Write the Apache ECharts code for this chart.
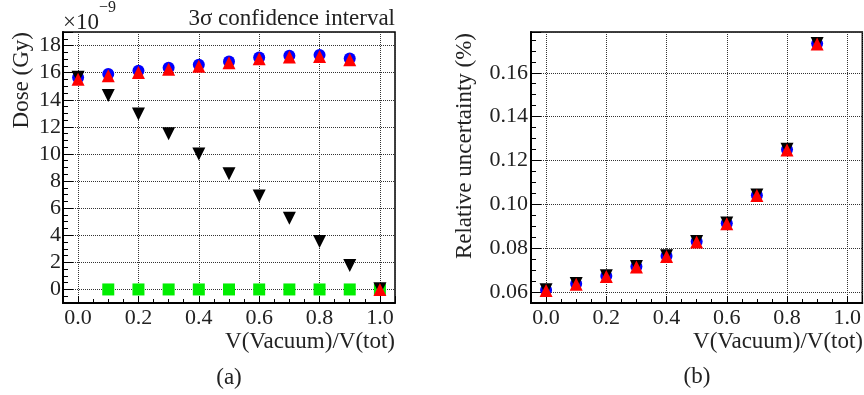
<!DOCTYPE html>
<html>
<head>
<meta charset="utf-8">
<script src="https://cdn.jsdelivr.net/npm/echarts@6/dist/echarts.min.js"></script>
<style>
html,body{margin:0;padding:0;background:#fff;}
#c{width:864px;height:395px;}
</style>
</head>
<body>
<div id="c"></div>
<script>
// ---- Data (panel a: Dose, x1e-9 Gy) ----
var xA = [0.0, 0.1, 0.2, 0.3, 0.4, 0.5, 0.6, 0.7, 0.8, 0.9, 1.0];
var doseBlue  = [15.64, 15.90, 16.14, 16.36, 16.58, 16.83, 17.12, 17.24, 17.30, 17.05, null];
var doseBlack = [15.66, 14.31, 12.94, 11.50, 10.00, 8.53, 6.90, 5.26, 3.53, 1.76, 0.05];
var doseGreen = [null, 0, 0, 0, 0, 0, 0, 0, 0, 0, 0];
var doseRed   = [15.52, 15.77, 16.02, 16.25, 16.47, 16.73, 17.02, 17.15, 17.20, 16.95, 0];

// ---- Data (panel b: relative uncertainty, %) ----
var xB = [0.0, 0.1, 0.2, 0.3, 0.4, 0.5, 0.6, 0.7, 0.8, 0.9];
var relBlue  = [0.0609, 0.0638, 0.0673, 0.0716, 0.0764, 0.0830, 0.0914, 0.1042, 0.1250, 0.1733];
var relBlack = [0.0610, 0.0639, 0.0674, 0.0717, 0.0765, 0.0831, 0.0915, 0.1043, 0.1251, 0.1734];
var relRed   = [0.0607, 0.0636, 0.0671, 0.0714, 0.0762, 0.0828, 0.0912, 0.1040, 0.1248, 0.1731];

function pairs(xs, ys){ var o=[]; for(var i=0;i<xs.length;i++){ if(ys[i]!==null) o.push([xs[i], ys[i]]); } return o; }

var FONT = 'Liberation Serif';
var TXT = '#222';
var TICKFS = 22;
var TITLEFS = 23;

function xAxisCfg(gi){
  return {
    type:'value', gridIndex:gi, min:-0.05, max:1.05, splitNumber:5,
    axisLine:{show:true, onZero:false, lineStyle:{color:'#000', width:2}},
    axisTick:{show:true, inside:true, length:7, lineStyle:{color:'#000', width:1}},
    minorTick:{show:true, splitNumber:4, length:4, lineStyle:{color:'#000', width:1}},
    splitLine:{show:true, lineStyle:{color:'#333', type:'dotted', width:1}},
    axisLabel:{show:true, showMinLabel:false, showMaxLabel:false, color:TXT, fontFamily:FONT, fontSize:TICKFS, margin:4,
      formatter:function(v){return v.toFixed(1);}}
  };
}

var symCircle = 'circle';
var symDown = 'path://M0,0 L10,0 L5,9 Z';
var symUp = 'path://M5,0 L10,9 L0,9 Z';

function sc(name, data, xi, yi, sym, color, size){
  return {type:'scatter', name:name, xAxisIndex:xi, yAxisIndex:yi, data:data, symbol:sym, symbolSize:size,
    itemStyle:{color:color, opacity:1}, emphasis:{disabled:true}, silent:true};
}

function txt(x, y, s, align, vAlign, rot){
  var o = {type:'text', x:x, y:y, style:{text:s, fill:TXT, fontFamily:FONT, fontSize:TITLEFS, align:align, verticalAlign:vAlign}};
  if (rot) o.rotation = rot;
  return o;
}

var chart = echarts.init(document.getElementById('c'), null, {renderer:'canvas'});
chart.setOption({
  animation:false,
  backgroundColor:'#fff',
  grid:[
    {left:63, top:32, width:332, height:271, show:true, borderColor:'#000', borderWidth:1.5, containLabel:false},
    {left:531, top:32, width:332, height:271, show:true, borderColor:'#000', borderWidth:1.5, containLabel:false}
  ],
  xAxis:[xAxisCfg(0), xAxisCfg(1)],
  yAxis:[
    {type:'value', gridIndex:0, min:-1, max:19, splitNumber:10,
     axisLine:{show:true, onZero:false, lineStyle:{color:'#000', width:2}},
     axisTick:{show:true, inside:true, length:10, lineStyle:{color:'#000', width:1}},
     minorTick:{show:true, splitNumber:4, length:5, lineStyle:{color:'#000', width:1}},
     splitLine:{show:true, lineStyle:{color:'#333', type:'dotted', width:1}},
     axisLabel:{show:true, showMinLabel:false, showMaxLabel:false, color:TXT, fontFamily:FONT, fontSize:TICKFS, margin:2}
    },
    {type:'value', gridIndex:1, min:0.055, max:0.1786, splitNumber:6,
     axisLine:{show:true, onZero:false, lineStyle:{color:'#000', width:2}},
     axisTick:{show:true, inside:true, length:10, lineStyle:{color:'#000', width:1}},
     minorTick:{show:true, splitNumber:4, length:5, lineStyle:{color:'#000', width:1}},
     splitLine:{show:true, lineStyle:{color:'#333', type:'dotted', width:1}},
     axisLabel:{show:true, showMinLabel:false, showMaxLabel:false, color:TXT, fontFamily:FONT, fontSize:TICKFS, margin:3,
       formatter:function(v){return v.toFixed(2);}}
    }
  ],
  series:[
    sc('Blue', pairs(xA, doseBlue), 0, 0, symCircle, '#0000ff', 12),
    sc('Green', pairs(xA, doseGreen), 0, 0, 'rect', '#00ee00', 12),
    sc('Black', pairs(xA, doseBlack), 0, 0, symDown, '#000000', 13),
    sc('Red', pairs(xA, doseRed), 0, 0, symUp, '#ff0000', 13),
    sc('Blue', pairs(xB, relBlue), 1, 1, symCircle, '#0000ff', 12),
    sc('Black', pairs(xB, relBlack), 1, 1, symDown, '#000000', 13),
    sc('Red', pairs(xB, relRed), 1, 1, symUp, '#ff0000', 13)
  ],
  graphic:[
    {type:'text', x:63, y:0, style:{
      text:'{a|×10}{s|−9}', fill:TXT, fontFamily:FONT, fontSize:22, verticalAlign:'top', align:'left',
      rich:{
        a:{fontSize:23, fontFamily:FONT, fill:TXT, lineHeight:34, verticalAlign:'bottom'},
        s:{fontSize:16, fontFamily:FONT, fill:TXT, lineHeight:15, verticalAlign:'top'}
      }}},
    txt(395, 19, '3σ confidence interval', 'right', 'middle'),
    txt(22, 32, 'Dose (Gy)', 'right', 'middle', Math.PI/2),
    txt(395, 342, 'V(Vacuum)/V(tot)', 'right', 'middle'),
    txt(229, 378, '(a)', 'center', 'middle'),
    txt(465, 33, 'Relative uncertainty (%)', 'right', 'middle', Math.PI/2),
    txt(863, 342, 'V(Vacuum)/V(tot)', 'right', 'middle'),
    txt(697, 377, '(b)', 'center', 'middle')
  ]
});
</script>
</body>
</html>
